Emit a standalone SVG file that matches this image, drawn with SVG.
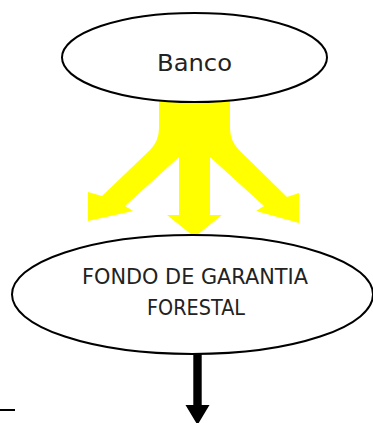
<svg xmlns="http://www.w3.org/2000/svg" width="373" height="423" viewBox="0 0 373 423">
<style>
.node ellipse{fill:#fff;stroke:#000;stroke-width:2}
.lbl{font-family:"DejaVu Sans","Liberation Sans",sans-serif;fill:#222;text-anchor:middle}
</style>
<rect width="373" height="423" fill="#fff"/>
<g id="connectors">
<path id="fan" d="M159,95 L159,128 Q159,141 150,150 L102,196 L88,192 L88,221 L133,211 L125,206 L179,157 L179,215 L167,215 L194.5,237 L222,215 L210,215 L210,157 L264,206 L256,211 L299,223 L299,193 L287,197 L239,150 Q230,141 230,128 L230,95 Z" fill="#ffff00"/>
<path id="down" d="M193.3,353 L201.7,353 L201.7,405 L209.5,405 L197.5,425 L185.5,405 L193.3,405 Z" fill="#000"/>
<line x1="0" y1="410" x2="15" y2="410" stroke="#000" stroke-width="2"/>
</g>
<g id="banco" class="node">
<ellipse cx="194.5" cy="57.5" rx="132.5" ry="44.5"/>
<text class="lbl" x="194.5" y="70.5" font-size="23.5" textLength="75" lengthAdjust="spacingAndGlyphs">Banco</text>
</g>
<g id="fondo" class="node">
<ellipse cx="192.5" cy="294.5" rx="180.5" ry="59.5"/>
<text class="lbl" x="195" y="283.5" font-size="21.5" textLength="226" lengthAdjust="spacingAndGlyphs">FONDO DE GARANTIA</text>
<text class="lbl" x="196" y="314.5" font-size="21.5" textLength="98" lengthAdjust="spacingAndGlyphs">FORESTAL</text>
</g>
</svg>
